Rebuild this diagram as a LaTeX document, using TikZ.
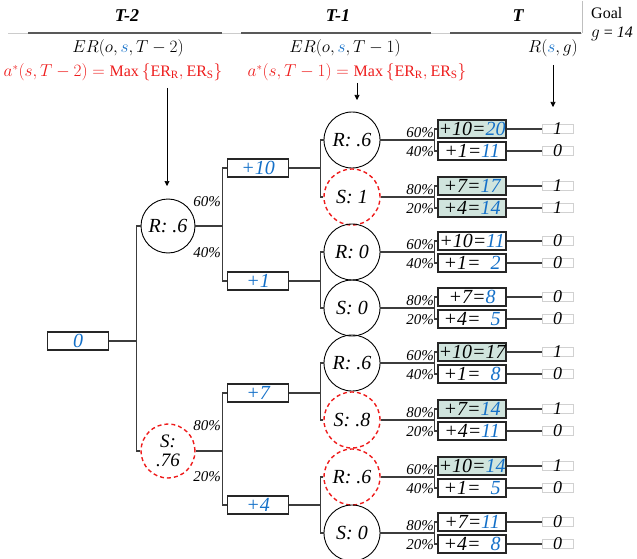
\documentclass[tikz,border=0pt]{standalone}
\usepackage{fontspec}
\setmainfont{Liberation Serif}
\usetikzlibrary{arrows.meta}
\definecolor{nblue}{RGB}{20,112,200}
\definecolor{rred}{RGB}{238,28,28}
\definecolor{hfill}{RGB}{208,228,221}
\definecolor{lnc}{RGB}{60,60,60}
\newcommand{\bl}[1]{\textcolor{nblue}{#1}}
\newcommand{\lvbox}[5]{%
  \node[#3] (b#1) at (472,#2) {#4};
  \node[rbox,label={[rtxt]center:#5}] (r#1) at (557.5,#2) {};
  \draw[conn] (b#1.east) -- (r#1.west);
}
\newcommand{\lvcirc}[6]{%
  \node[#3] (c#1) at (352,#2) {#4};
  \coordinate (j#1) at (435,#2);
  \draw[conn] (c#1.east) -- (j#1);
  \draw[conn] (b#1a.west) -- ++(-3,0) |- (b#1b.west);
  \node[pct] (pa#1) at (434,#2-7) {#5};
  \node[pct] (pb#1) at (434,#2+12) {#6};
}
\begin{document}
\begin{tikzpicture}[x=1pt,y=-1pt,
  conn/.style={draw=lnc,line width=1.1pt},
  arr/.style={draw=black,line width=0.6pt,-{Triangle[length=5pt,width=5pt]}},
  circ/.style={circle,draw=black,line width=0.9pt,minimum size=56pt,inner sep=0pt,
    font=\fontsize{20}{18}\selectfont\itshape,align=center},
  dcirc/.style={circ,draw=rred,dash pattern=on 4pt off 3pt,line width=1.4pt},
  circa/.style={circ,minimum size=54pt},
  dcirca/.style={dcirc,minimum size=54pt,font=\fontsize{19}{19.5}\selectfont\itshape},
  vbox/.style={draw=black!85,line width=1.1pt,minimum width=68pt,minimum height=18pt,
    inner sep=0pt,font=\fontsize{20}{19}\selectfont\itshape},
  hbox/.style={vbox,fill=hfill},
  sbox/.style={vbox,minimum width=61pt},
  rbox/.style={draw=black!18,line width=0.8pt,minimum width=31pt,minimum height=9pt,inner sep=0pt},
  rtxt/.style={font=\fontsize{18}{18}\selectfont\itshape,inner sep=0pt},
  pct/.style={font=\fontsize{15}{15}\selectfont\itshape,inner sep=0pt,anchor=east},
  hdr/.style={font=\fontsize{18}{18}\selectfont\bfseries\itshape,inner sep=0pt},
  mth/.style={font=\fontsize{16}{16}\selectfont,inner sep=0pt},
  rmth/.style={mth,text=rred},
]
\useasboundingbox (0,0) rectangle (637,559);

% header
\draw[black!20,line width=0.8pt] (8,33) -- (582,33);
\draw[black!25,line width=0.8pt] (582,1) -- (582,33);
\draw[black!65,line width=2pt] (28,33) -- (222,33);
\draw[black!65,line width=2pt] (241,33) -- (431,33);
\draw[black!65,line width=2pt] (450,33) -- (581,33);
\node[hdr] (h2) at (127,16) {T-2};
\node[hdr] (h1) at (338,16) {T-1};
\node[hdr] (h0) at (518,16) {T};
\node[font=\fontsize{16}{19}\selectfont,align=left,anchor=west,inner sep=0pt] (goal) at (591,24) {Goal\\$g$ = \textit{14}};
\node[mth] (er2) at (128,48) {$ER(o,\textcolor{nblue}{s},T-2)$};
\node[mth] (er1) at (345,48) {$ER(o,\textcolor{nblue}{s},T-1)$};
\node[mth] (rsg) at (553,48) {$R(\textcolor{nblue}{s},g)$};
\node[rmth] (as2) at (113,72) {$a^{*}(s,T-2)=\mathrm{Max}\,\{\mathrm{ER_R},\mathrm{ER_S}\}$};
\node[rmth] (as1) at (357,72) {$a^{*}(s,T-1)=\mathrm{Max}\,\{\mathrm{ER_R},\mathrm{ER_S}\}$};
\coordinate (a2s) at (167,88);
\coordinate (a2e) at (167,186);
\coordinate (a1s) at (357,83);
\coordinate (a1e) at (357,100);
\coordinate (a0s) at (553,65);
\coordinate (a0e) at (553,107);
\draw[arr] (a2s) -- (a2e);
\draw[arr] (a1s) -- (a1e);
\draw[arr] (a0s) -- (a0e);

% level 0 and 1
\node[sbox] (root) at (78,341) {\bl{0}};
\node[circa] (r1) at (168,226) {R: .6};
\node[dcirca] (s1) at (168,451) {S:\\.76};
\coordinate (j0) at (137,341);
\draw[conn] (root.east) -- (j0);
\draw[conn] (r1.west) -- ++(-4,0) |- (s1.west);

\node[sbox] (p10) at (258,168) {\bl{+10}};
\node[sbox] (p1) at (258,281) {\bl{+1}};
\node[sbox] (p7) at (258,393) {\bl{+7}};
\node[sbox] (p4) at (258,505) {\bl{+4}};
\coordinate (jr1) at (223,226);
\coordinate (js1) at (223,451);
\draw[conn] (r1.east) -- (jr1);
\draw[conn] (s1.east) -- (js1);
\draw[conn] (p10.west) -- ++(-4.5,0) |- (p1.west);
\draw[conn] (p7.west) -- ++(-4.5,0) |- (p4.west);
\node[pct] (q60) at (221,202) {60\%};
\node[pct] (q40) at (221,253) {40\%};
\node[pct] (q80) at (221,426) {80\%};
\node[pct] (q20) at (221,477) {20\%};

% level 2 boxes
\lvbox{1a}{129}{hbox}{+10=\bl{20}}{1}
\lvbox{1b}{151}{vbox}{+1=\bl{11}}{0}
\lvbox{2a}{186}{hbox}{+7=\bl{17}}{1}
\lvbox{2b}{208}{hbox}{+4=\bl{14}}{1}
\lvbox{3a}{241}{vbox}{+10=\bl{11}}{0}
\lvbox{3b}{263}{vbox}{+1=\hphantom{1}\bl{2}}{0}
\lvbox{4a}{297}{vbox}{+7=\bl{8}}{0}
\lvbox{4b}{319}{vbox}{+4=\hphantom{1}\bl{5}}{0}
\lvbox{5a}{352}{hbox}{+10=17}{1}
\lvbox{5b}{374}{vbox}{+1=\hphantom{1}\bl{8}}{0}
\lvbox{6a}{409}{hbox}{+7=\bl{14}}{1}
\lvbox{6b}{431}{vbox}{+4=\bl{11}}{0}
\lvbox{7a}{466}{hbox}{+10=\bl{14}}{1}
\lvbox{7b}{488}{vbox}{+1=\hphantom{1}\bl{5}}{0}
\lvbox{8a}{522}{vbox}{+7=\bl{11}}{0}
\lvbox{8b}{544}{vbox}{+4=\hphantom{1}\bl{8}}{0}

% level 2 circles
\lvcirc{1}{140}{circ}{R: .6}{60\%}{40\%}
\lvcirc{2}{197}{dcirc}{S: 1}{80\%}{20\%}
\lvcirc{3}{252}{circ}{R: 0}{60\%}{40\%}
\lvcirc{4}{308}{circ}{S: 0}{80\%}{20\%}
\lvcirc{5}{363}{circ}{R: .6}{60\%}{40\%}
\lvcirc{6}{420}{dcirc}{S: .8}{80\%}{20\%}
\lvcirc{7}{477}{dcirc}{R: .6}{60\%}{40\%}
\lvcirc{8}{533}{circ}{S: 0}{80\%}{20\%}

\draw[conn] (p10.east) -- (321,168);
\draw[conn] (p1.east) -- (321,281);
\draw[conn] (p7.east) -- (321,393);
\draw[conn] (p4.east) -- (321,505);
\draw[conn] (c1.west) -- ++(-3,0) |- (c2.west);
\draw[conn] (c3.west) -- ++(-3,0) |- (c4.west);
\draw[conn] (c5.west) -- ++(-3,0) |- (c6.west);
\draw[conn] (c7.west) -- ++(-3,0) |- (c8.west);
\end{tikzpicture}
\end{document}
